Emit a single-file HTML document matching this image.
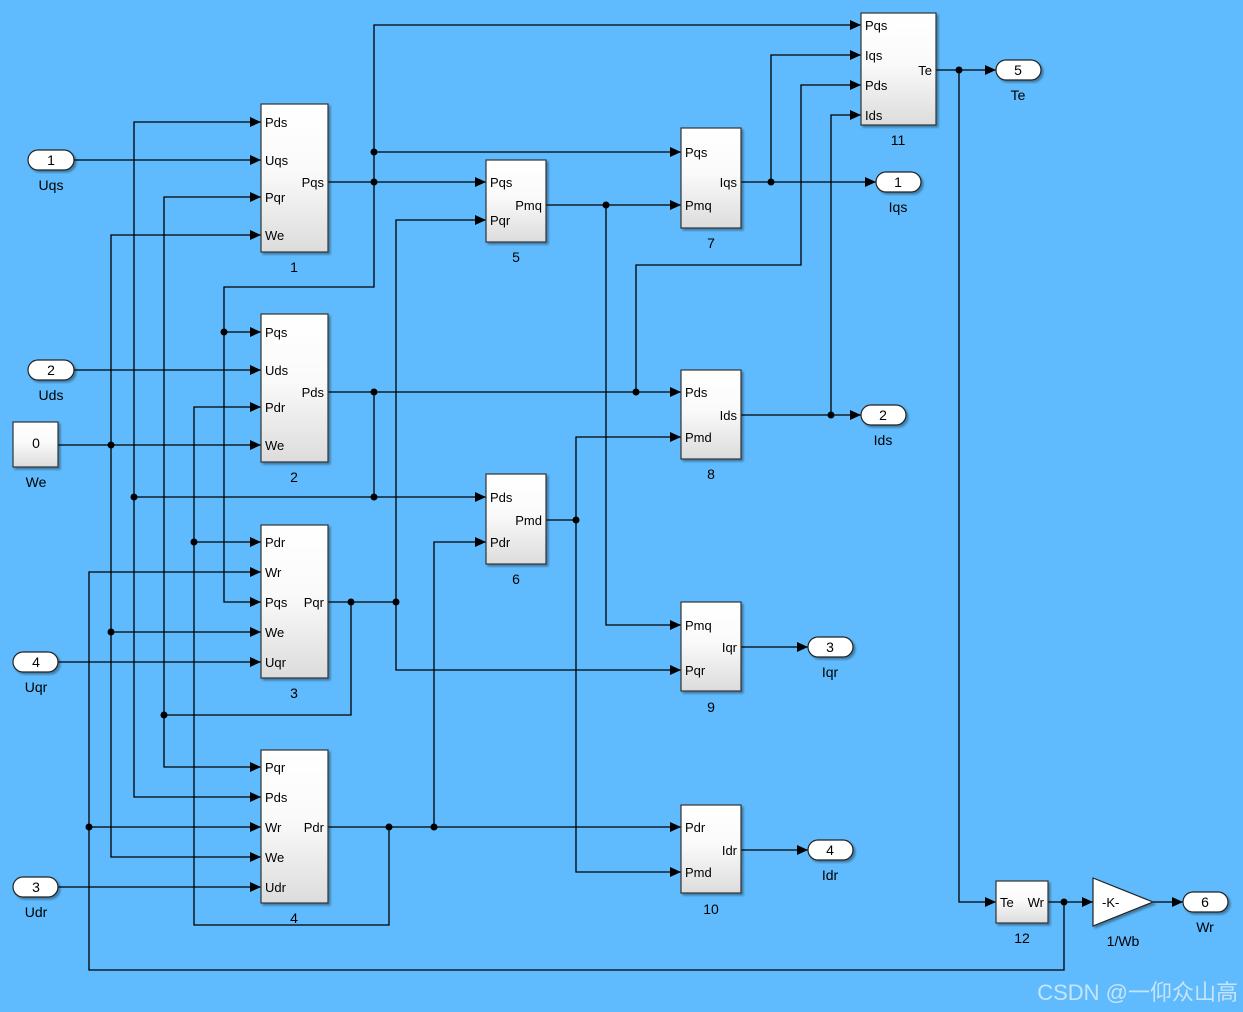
<!DOCTYPE html>
<html><head><meta charset="utf-8"><style>
html,body{margin:0;padding:0;background:#5fbbfd;}
svg{display:block;font-family:"Liberation Sans",Arial,sans-serif;}
.w{fill:none;stroke:#000;stroke-width:1.3}
.b{fill:url(#g);stroke:#333;stroke-width:1.2;filter:url(#sh)}
.p{font-size:13px}
.l{font-size:14px;text-anchor:middle}
.o{fill:#fff;stroke:#222;stroke-width:1.2;filter:url(#sh)}
</style></head><body>
<svg width="1243" height="1012" viewBox="0 0 1243 1012">
<defs>
<linearGradient id="g" x1="0" y1="0" x2="0" y2="1"><stop offset="0" stop-color="#fff"/><stop offset="0.45" stop-color="#fafafa"/><stop offset="1" stop-color="#dcdcdc"/></linearGradient>
<filter id="sh" x="-10%" y="-10%" width="130%" height="130%"><feDropShadow dx="2" dy="2" stdDeviation="1" flood-color="#000" flood-opacity="0.35"/></filter>
<marker id="a" markerUnits="userSpaceOnUse" markerWidth="12" markerHeight="10" refX="11" refY="5" orient="auto"><path d="M0,0 L11,5 L0,10 z" fill="#000"/></marker>
</defs>
<path class="w" d="M374,392V497"/>
<g class="w" marker-end="url(#a)">
<path d="M74,160H261"/>
<path d="M328,182H486"/>
<path d="M374,182V25H861"/>
<path d="M374,152H681"/>
<path d="M374,182V287H224V602H261"/>
<path d="M224,332H261"/>
<path d="M74,370H261"/>
<path d="M328,392H681"/>
<path d="M134,497H486"/>
<path d="M134,497V122H261"/>
<path d="M134,497V797H261"/>
<path d="M636,392V265H801V85H861"/>
<path d="M546,205H681"/>
<path d="M606,205V625H681"/>
<path d="M741,182H876"/>
<path d="M771,182V55H861"/>
<path d="M741,415H861"/>
<path d="M831,415V115H861"/>
<path d="M546,520H576V437H681"/>
<path d="M576,520V872H681"/>
<path d="M328,602H396V220H486"/>
<path d="M396,602V670H681"/>
<path d="M351,602V715H164V197H261"/>
<path d="M164,715V767H261"/>
<path d="M328,827H681"/>
<path d="M434,827V542H486"/>
<path d="M389,827V925H194V407H261"/>
<path d="M194,542H261"/>
<path d="M58,445H261"/>
<path d="M111,445V235H261"/>
<path d="M111,445V632H261"/>
<path d="M111,632V857H261"/>
<path d="M58,662H261"/>
<path d="M58,887H261"/>
<path d="M1048,902H1093"/>
<path d="M1064,902V970H89V572H261"/>
<path d="M89,827H261"/>
<path d="M936,70H996"/>
<path d="M959,70V902H996"/>
<path d="M1153,902H1183"/>
<path d="M741,647H808"/>
<path d="M741,850H808"/>
</g>
<g fill="#000">
<circle cx="374" cy="182" r="3.5"/><circle cx="374" cy="152" r="3.5"/><circle cx="224" cy="332" r="3.5"/>
<circle cx="374" cy="392" r="3.5"/><circle cx="374" cy="497" r="3.5"/><circle cx="134" cy="497" r="3.5"/>
<circle cx="636" cy="392" r="3.5"/><circle cx="606" cy="205" r="3.5"/><circle cx="771" cy="182" r="3.5"/>
<circle cx="831" cy="415" r="3.5"/><circle cx="576" cy="520" r="3.5"/><circle cx="351" cy="602" r="3.5"/>
<circle cx="396" cy="602" r="3.5"/><circle cx="164" cy="715" r="3.5"/><circle cx="389" cy="827" r="3.5"/>
<circle cx="434" cy="827" r="3.5"/><circle cx="194" cy="542" r="3.5"/><circle cx="111" cy="445" r="3.5"/>
<circle cx="111" cy="632" r="3.5"/><circle cx="1064" cy="902" r="3.5"/><circle cx="89" cy="827" r="3.5"/>
<circle cx="959" cy="70" r="3.5"/>
</g>
<rect class="b" x="261" y="104" width="67" height="148"/>
<rect class="b" x="261" y="314" width="67" height="148"/>
<rect class="b" x="261" y="525" width="67" height="153"/>
<rect class="b" x="261" y="750" width="67" height="153"/>
<rect class="b" x="486" y="160" width="60" height="82"/>
<rect class="b" x="486" y="474" width="60" height="90"/>
<rect class="b" x="681" y="128" width="60" height="100"/>
<rect class="b" x="681" y="370" width="60" height="89"/>
<rect class="b" x="681" y="602" width="60" height="89"/>
<rect class="b" x="681" y="805" width="60" height="88"/>
<rect class="b" x="861" y="13" width="75" height="112"/>
<rect class="b" x="996" y="881" width="52" height="42"/>
<rect class="b" x="13" y="422" width="45" height="45"/>
<polygon points="1093,878 1153,902 1093,926" fill="#fff" stroke="#222" stroke-width="1.2" filter="url(#sh)"/>
<g class="p">
<text x="265" y="127">Pds</text><text x="265" y="165">Uqs</text><text x="265" y="202">Pqr</text><text x="265" y="240">We</text><text x="324" y="187" text-anchor="end">Pqs</text>
<text x="265" y="337">Pqs</text><text x="265" y="375">Uds</text><text x="265" y="412">Pdr</text><text x="265" y="450">We</text><text x="324" y="397" text-anchor="end">Pds</text>
<text x="265" y="547">Pdr</text><text x="265" y="577">Wr</text><text x="265" y="607">Pqs</text><text x="265" y="637">We</text><text x="265" y="667">Uqr</text><text x="324" y="607" text-anchor="end">Pqr</text>
<text x="265" y="772">Pqr</text><text x="265" y="802">Pds</text><text x="265" y="832">Wr</text><text x="265" y="862">We</text><text x="265" y="892">Udr</text><text x="324" y="832" text-anchor="end">Pdr</text>
<text x="490" y="187">Pqs</text><text x="490" y="225">Pqr</text><text x="542" y="210" text-anchor="end">Pmq</text>
<text x="490" y="502">Pds</text><text x="490" y="547">Pdr</text><text x="542" y="525" text-anchor="end">Pmd</text>
<text x="685" y="157">Pqs</text><text x="685" y="210">Pmq</text><text x="737" y="187" text-anchor="end">Iqs</text>
<text x="685" y="397">Pds</text><text x="685" y="442">Pmd</text><text x="737" y="420" text-anchor="end">Ids</text>
<text x="685" y="630">Pmq</text><text x="685" y="675">Pqr</text><text x="737" y="652" text-anchor="end">Iqr</text>
<text x="685" y="832">Pdr</text><text x="685" y="877">Pmd</text><text x="737" y="855" text-anchor="end">Idr</text>
<text x="865" y="30">Pqs</text><text x="865" y="60">Iqs</text><text x="865" y="90">Pds</text><text x="865" y="120">Ids</text><text x="932" y="75" text-anchor="end">Te</text>
<text x="1000" y="907">Te</text><text x="1044" y="907" text-anchor="end">Wr</text>
<text x="1102" y="907">-K-</text>
</g>
<g class="l">
<text x="294" y="272">1</text><text x="294" y="482">2</text><text x="294" y="698">3</text><text x="294" y="923">4</text>
<text x="516" y="262">5</text><text x="516" y="584">6</text><text x="711" y="248">7</text><text x="711" y="479">8</text>
<text x="711" y="712">9</text><text x="711" y="914">10</text><text x="898" y="145">11</text><text x="1022" y="943">12</text>
<text x="1123" y="946">1/Wb</text>
<text x="36" y="448">0</text><text x="36" y="487">We</text>
</g>
<g>
<rect class="o" x="28" y="150" width="46" height="20" rx="10"/><rect class="o" x="28" y="360" width="46" height="20" rx="10"/>
<rect class="o" x="13" y="652" width="45" height="20" rx="10"/><rect class="o" x="13" y="877" width="45" height="20" rx="10"/>
<rect class="o" x="996" y="60" width="45" height="20" rx="10"/><rect class="o" x="876" y="172" width="45" height="20" rx="10"/>
<rect class="o" x="861" y="405" width="45" height="20" rx="10"/><rect class="o" x="808" y="637" width="45" height="20" rx="10"/>
<rect class="o" x="808" y="840" width="45" height="20" rx="10"/><rect class="o" x="1183" y="892" width="45" height="20" rx="10"/>
</g>
<g class="l">
<text x="51" y="165">1</text><text x="51" y="190">Uqs</text>
<text x="51" y="375">2</text><text x="51" y="400">Uds</text>
<text x="36" y="667">4</text><text x="36" y="692">Uqr</text>
<text x="36" y="892">3</text><text x="36" y="917">Udr</text>
<text x="1018" y="75">5</text><text x="1018" y="100">Te</text>
<text x="898" y="187">1</text><text x="898" y="212">Iqs</text>
<text x="883" y="420">2</text><text x="883" y="445">Ids</text>
<text x="830" y="652">3</text><text x="830" y="677">Iqr</text>
<text x="830" y="855">4</text><text x="830" y="880">Idr</text>
<text x="1205" y="907">6</text><text x="1205" y="932">Wr</text>
</g>
<text x="1238" y="1000" text-anchor="end" font-size="22" fill="#d8ecfb" fill-opacity="0.85" style="font-family:'Liberation Sans','Noto Sans CJK SC',sans-serif">CSDN @一仰众山高</text>
</svg>
</body></html>
